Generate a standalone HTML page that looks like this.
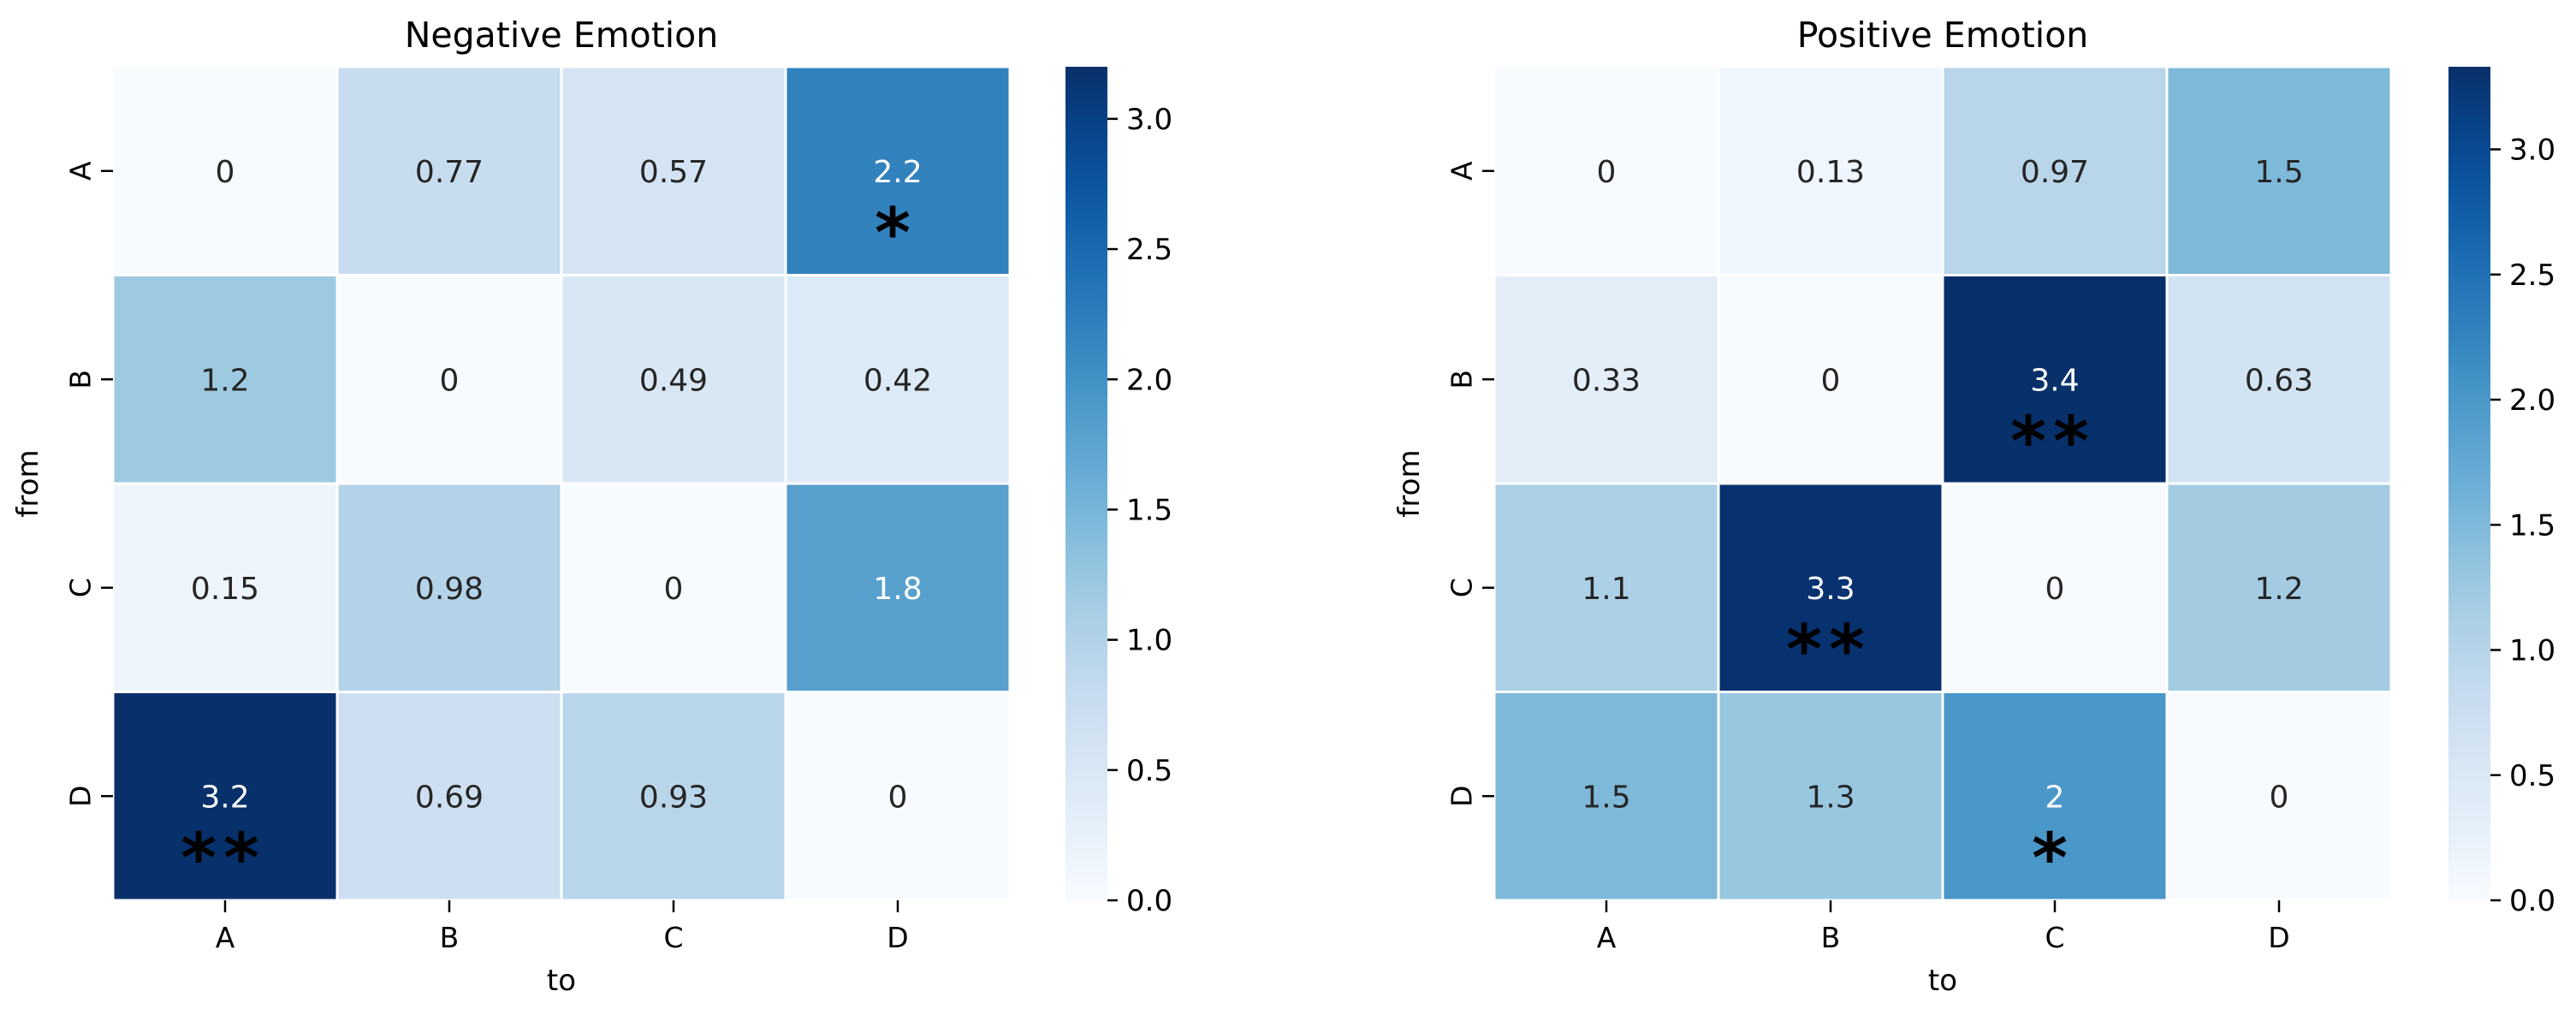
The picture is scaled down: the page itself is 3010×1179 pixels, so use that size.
<!DOCTYPE html>
<html><head><meta charset="utf-8"><style>
html,body{margin:0;padding:0;background:#fff;}
svg{display:block;font-family:"DejaVu Sans","Liberation Sans",sans-serif;}
</style></head><body>
<svg id="chart" width="3010" height="1179" viewBox="0 0 3010 1179" xmlns="http://www.w3.org/2000/svg"></svg>
<script>
const labels = ["A","B","C","D"];
const negValues = [[0,0.77,0.57,2.2],[1.2,0,0.49,0.42],[0.15,0.98,0,1.8],[3.2,0.69,0.93,0]];
const negStars = [["","","","*"],["","","",""],["","","",""],["**","","",""]];
const posValues = [[0,0.13,0.97,1.5],[0.33,0,3.4,0.63],[1.1,3.3,0,1.2],[1.5,1.3,2,0]];
const posStars = [["","","",""],["","","**",""],["","**","",""],["","","*",""]];
const negTicks = [0,0.5,1.0,1.5,2.0,2.5,3.0];
const posTicks = [0,0.5,1.0,1.5,2.0,2.5,3.0];
const negMax = 3.2, posMax = 3.33;

const stops = ["#f7fbff","#deebf7","#c6dbef","#9ecae1","#6baed6","#4292c6","#2171b5","#08519c","#08306b"];
function hex(h){return [1,3,5].map(i=>parseInt(h.substr(i,2),16));}
function blues(t){t=Math.max(0,Math.min(1,t));const p=t*8,i=Math.min(7,Math.floor(p)),f=p-i;const a=hex(stops[i]),b=hex(stops[i+1]);return "rgb("+a.map((v,k)=>Math.round(v+(b[k]-v)*f)).join(",")+")";}
const NS="http://www.w3.org/2000/svg";
const svg=document.getElementById("chart");
function mk(tag,attrs,parent){const e=document.createElementNS(NS,tag);for(const k in attrs)e.setAttribute(k,attrs[k]);(parent||svg).appendChild(e);return e;}

function panel(name,title,values,stars,vmax,ticks,x0,cbx){
  const g=mk("g",{});
  
  
  const y0=78,W=1048,H=974,cw=W/4,ch=H/4;
  const xs=j=>x0+j*cw, ys=i=>y0+i*ch;
  const t=mk("text",{x:x0+W/2,y:55,"text-anchor":"middle","font-size":41,fill:"#000"},g);t.textContent=title;
  
  
  for(let i=0;i<4;i++)for(let j=0;j<4;j++){
    const v=values[i][j],n=v/vmax;
    const r=mk("rect",{x:xs(j),y:ys(i),width:cw,height:ch,fill:blues(n),stroke:"#fff","stroke-width":3},g);
    
    
    const tx=mk("text",{x:xs(j)+cw/2,y:ys(i)+ch/2+13,"text-anchor":"middle","font-size":36,fill:n>0.5?"#fff":"#262626"},g);
    tx.textContent=String(v);
    
    
    if(stars[i][j]){
      const s=mk("text",{x:xs(j)+cw/2-2,y:ys(i)+ch/2+100,"text-anchor":"middle","font-size":80,"font-weight":"bold","letter-spacing":"8",fill:"#000"},g);
      s.textContent=stars[i][j];
      
      
    }
  }
  for(let k=0;k<4;k++){
    const cx=xs(k)+cw/2;
    mk("line",{x1:cx,y1:y0+H,x2:cx,y2:y0+H+14,stroke:"#000","stroke-width":2.5},g);
    const xl=mk("text",{x:cx,y:1107,"text-anchor":"middle","font-size":33,fill:"#000"},g);xl.textContent=labels[k];
    
    
    const cy=ys(k)+ch/2;
    mk("line",{x1:x0-14,y1:cy,x2:x0,y2:cy,stroke:"#000","stroke-width":2.5},g);
    const yl=mk("text",{x:x0-36,y:cy,"text-anchor":"middle","font-size":33,fill:"#000",transform:"rotate(-90 "+(x0-36)+" "+cy+")","dominant-baseline":"middle"},g);yl.textContent=labels[k];
    
    
  }
  const xt=mk("text",{x:x0+W/2,y:1157,"text-anchor":"middle","font-size":34,fill:"#000"},g);xt.textContent="to";
  
  
  const fy=y0+H/2;
  const yt=mk("text",{x:x0-88,y:fy,"text-anchor":"middle","font-size":34,fill:"#000",transform:"rotate(-90 "+(x0-88)+" "+fy+")"},g);yt.textContent="from";
  
  
  const gid=name+"-grad";
  const defs=mk("defs",{},g);
  const lg=mk("linearGradient",{id:gid,x1:0,y1:1,x2:0,y2:0},defs);
  for(let k=0;k<=20;k++)mk("stop",{offset:k/20,"stop-color":blues(k/20)},lg);
  const cbw=49;
  const cb=mk("rect",{x:cbx,y:y0,width:cbw,height:H,fill:"url(#"+gid+")"},g);
  
  
  const cs=v=>y0+H-v/vmax*H;
  ticks.forEach(v=>{
    const y=cs(v);
    mk("line",{x1:cbx+cbw,y1:y,x2:cbx+cbw+12,y2:y,stroke:"#000","stroke-width":2.5},g);
    const tl=mk("text",{x:cbx+cbw+22,y:y+12,"font-size":34,fill:"#000"},g);tl.textContent=v.toFixed(1);
    
    
  });
}
panel("negative-emotion-heatmap","Negative Emotion",negValues,negStars,negMax,negTicks,132,1245);
panel("positive-emotion-heatmap","Positive Emotion",posValues,posStars,posMax,posTicks,1746,2861);
</script>
</body></html>
